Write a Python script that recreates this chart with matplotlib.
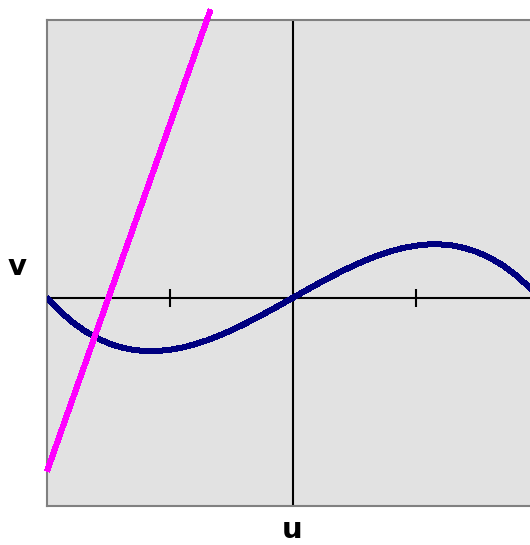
import matplotlib
matplotlib.use('Agg')
from matplotlib import pyplot as plt

# cubic nullcline (navy)
u_cubic = [-2.0, -1.9, -1.8, -1.7, -1.6, -1.5, -1.4, -1.3, -1.2, -1.1, -1.0,
           -0.9, -0.8, -0.7, -0.6, -0.5, -0.4, -0.3, -0.2, -0.1, 0.0,
           0.1, 0.2, 0.3, 0.4, 0.5, 0.6, 0.7, 0.8, 0.9, 1.0,
           1.1, 1.2, 1.3, 1.4, 1.5, 1.6, 1.7, 1.8, 1.9, 2.0]
v_cubic = [0.000, -0.185, -0.342, -0.472, -0.576, -0.656, -0.714, -0.751, -0.768, -0.767, -0.750,
           -0.718, -0.672, -0.614, -0.546, -0.469, -0.384, -0.293, -0.198, -0.100, 0.000,
           0.100, 0.198, 0.293, 0.384, 0.469, 0.546, 0.614, 0.672, 0.718, 0.750,
           0.767, 0.768, 0.751, 0.714, 0.656, 0.576, 0.472, 0.342, 0.185, 0.000]

# straight nullcline (magenta)
u_line = [-2.0, -1.8, -1.6, -1.4, -1.2, -1.0, -0.8, -0.67]
v_line = [-2.5, -1.5, -0.5, 0.5, 1.5, 2.5, 3.5, 4.15]

u_ticks = [-1.0, 1.0]

fig = plt.figure(figsize=(5.30, 5.45), dpi=100, facecolor='w')
ax = fig.add_axes([47/530, 39/545, 492/530, 486/545])
ax.set_facecolor('#e2e2e2')
ax.set_xlim(-2, 2)
ax.set_ylim(-3, 4)
ax.set_xticks([])
ax.set_yticks([])
for s in ax.spines.values():
    s.set_color('#808080')
    s.set_linewidth(1.5)

# axes through origin
ax.axhline(0, color='black', lw=1.5, zorder=2)
ax.axvline(0, color='black', lw=1.5, zorder=2)
ax.vlines(u_ticks, -0.13, 0.13, color='black', lw=1.5, zorder=2)

ax.plot(u_cubic, v_cubic, color='#000080', lw=3.6, antialiased=False,
        solid_capstyle='butt', zorder=3)
ax.plot(u_line, v_line, color='#ff00ff', lw=3.6, antialiased=False,
        solid_capstyle='butt', clip_on=False, zorder=4)

fig.text(17/530, (545-275)/545, 'v', fontsize=21, fontweight='bold',
         ha='center', va='baseline')
fig.text(292/530, 1/545, 'u', fontsize=21, fontweight='bold',
         ha='center', va='bottom')

fig.savefig('out.png', dpi=100)
